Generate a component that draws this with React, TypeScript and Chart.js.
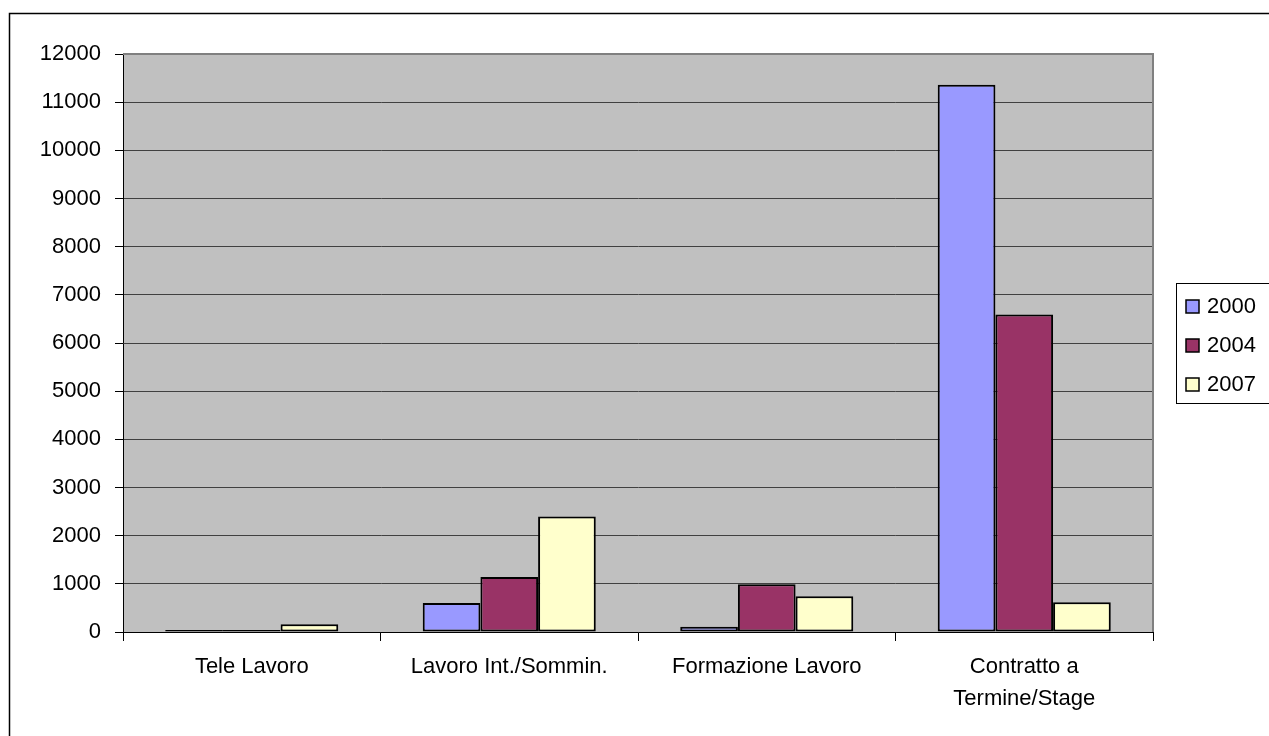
import React, { useEffect, useRef } from "react";
import { Chart, registerables } from "chart.js";

Chart.register(...registerables);

const categories: (string | string[])[] = [
  "Tele Lavoro",
  "Lavoro Int./Sommin.",
  "Formazione Lavoro",
  ["Contratto a", "Termine/Stage"],
];
const seriesLabels = ["2000", "2004", "2007"];
const values2000 = [40, 600, 110, 11360];
const values2004 = [40, 1140, 990, 6590];
const values2007 = [160, 2400, 740, 620];
const seriesColors = ["#9999FF", "#993366", "#FFFFCC"];
const yMin = 0;
const yMax = 12000;
const yStep = 1000;

const FONT = "'Liberation Sans', Arial, sans-serif";
const FS = 22;

const framePlugin = {
  id: "frame",
  beforeDraw(chart: any) {
    const { ctx, chartArea, width, height } = chart;
    ctx.save();
    ctx.fillStyle = "#ffffff";
    ctx.fillRect(0, 0, width, height);
    ctx.fillStyle = "#C0C0C0";
    ctx.fillRect(chartArea.left, chartArea.top, chartArea.right - chartArea.left, chartArea.bottom - chartArea.top);
    ctx.restore();
  },
  afterDraw(chart: any) {
    const { ctx, chartArea } = chart;
    ctx.save();
    ctx.strokeStyle = "#808080";
    ctx.lineWidth = 2;
    ctx.beginPath();
    ctx.moveTo(chartArea.left, chartArea.top);
    ctx.lineTo(chartArea.right, chartArea.top);
    ctx.lineTo(chartArea.right, chartArea.bottom);
    ctx.stroke();
    ctx.strokeStyle = "#000000";
    ctx.lineWidth = 1.5;
    ctx.strokeRect(9.5, 13.5, 1400, 900);
    ctx.lineWidth = 1;
    ctx.strokeRect(1176.5, 283.5, 200, 120);
    ctx.font = `${FS}px ${FONT}`;
    ctx.textBaseline = "middle";
    ctx.textAlign = "left";
    chart.data.datasets.forEach((ds: any, i: number) => {
      const cy = 306 + i * 39;
      ctx.fillStyle = ds.backgroundColor;
      ctx.fillRect(1186, cy - 6, 13, 13);
      ctx.strokeStyle = "#000";
      ctx.lineWidth = 1.5;
      ctx.strokeRect(1186, cy - 6, 13, 13);
      ctx.fillStyle = "#000";
      ctx.fillText(ds.label, 1207, cy + 1);
    });
    ctx.restore();
  },
};

export default function App() {
  const ref = useRef<HTMLCanvasElement | null>(null);
  useEffect(() => {
    if (!ref.current) return;
    const datasets = [values2000, values2004, values2007].map((vals, i) => ({
      label: seriesLabels[i],
      data: vals,
      backgroundColor: seriesColors[i],
      borderColor: "#000000",
      borderWidth: 2,
      borderSkipped: false as any,
      categoryPercentage: 0.672,
      barPercentage: 1.0,
    }));
    const chart = new Chart(ref.current, {
      type: "bar",
      data: { labels: categories as any, datasets },
      options: {
        animation: false,
        responsive: false,
        maintainAspectRatio: false,
        layout: { padding: { left: 0, top: 54, right: 116, bottom: 0 } },
        plugins: { legend: { display: false }, tooltip: { enabled: false } },
        scales: {
          x: {
            afterFit: (s: any) => { s.height = 104; },
            grid: { display: true, drawOnChartArea: false, drawTicks: true, tickLength: 9, color: "#000", offset: true },
            border: { display: true, color: "#000", width: 1 },
            ticks: { color: "#000", font: { family: FONT, size: FS, lineHeight: 1.45 }, padding: 10, maxRotation: 0, autoSkip: false },
          },
          y: {
            min: yMin,
            max: yMax,
            afterFit: (s: any) => { s.width = 123; },
            grid: { color: "#404040", lineWidth: 1, tickLength: 8, tickColor: "#000" },
            border: { display: true, color: "#000", width: 1 },
            ticks: {
              stepSize: yStep,
              color: "#000",
              font: { family: FONT, size: FS },
              padding: 14,
              callback: (v: any) => String(v),
            },
          },
        },
      },
      plugins: [framePlugin],
    });
    return () => chart.destroy();
  }, []);
  return (
    <div style={{ position: "fixed", left: 0, top: 0, width: 1269, height: 736, background: "#fff" }}>
      <canvas ref={ref} width={1269} height={736} style={{ display: "block" }} />
    </div>
  );
}
